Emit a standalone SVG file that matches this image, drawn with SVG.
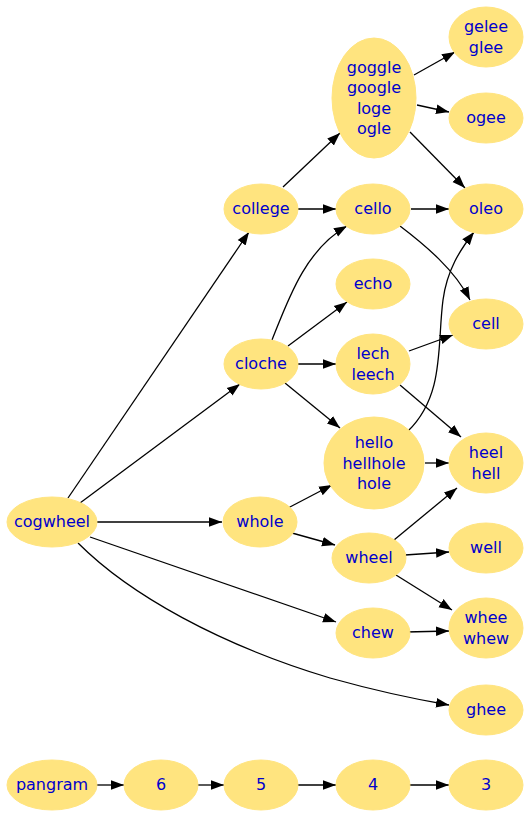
<svg xmlns="http://www.w3.org/2000/svg" width="530" height="815" viewBox="0 0 530 815">
<style>
.n ellipse{fill:#ffe47f;stroke:#ffe47f;stroke-width:1}
.n text{font-family:"DejaVu Sans",Verdana,sans-serif;font-size:16px;fill:#0000cc;text-anchor:middle}
#edges path{fill:none;stroke:#000;stroke-width:1.3;marker-end:url(#ah)}
</style>
<defs>
<marker id="ah" markerUnits="userSpaceOnUse" markerWidth="14" markerHeight="12" viewBox="0 0 14 12" refX="13" refY="6" orient="auto">
<path d="M0,1.2 L13,6 L0,10.8 Z" fill="#000"/>
</marker>
</defs>
<rect width="530" height="815" fill="#fff"/>
<g id="edges">
<path d="M68,498 L249,232"/>
<path d="M80,503 L240,384"/>
<path d="M97,522 L222,522"/>
<path d="M90,537 L336,622"/>
<path d="M78,543 C130,595 220,645 330,678 C380,692 420,700 449,705"/>
<path d="M283,187 L340,133"/>
<path d="M298,209 L336,209"/>
<path d="M272,340 C288,300 305,250 347,226"/>
<path d="M288,346 L347,302"/>
<path d="M298,364 L336,364"/>
<path d="M285,383 L340,428"/>
<path d="M414,75 L455,52"/>
<path d="M417,105 L449,112"/>
<path d="M410,132 L465,188"/>
<path d="M411,209 L449,209"/>
<path d="M400,226 C425,245 455,270 470,300"/>
<path d="M409,351 L453,335"/>
<path d="M400,385 L461,437"/>
<path d="M408,431 C445,395 437,345 443,300 C447,270 460,250 474,232"/>
<path d="M425,463 L449,463"/>
<path d="M288,508 L332,485"/>
<path d="M292,533 L335,545"/>
<path d="M394,540 L457,488"/>
<path d="M405,555 L449,552"/>
<path d="M396,575 L452,610"/>
<path d="M406,632 L449,631"/>
<path d="M96,785 L124,785"/>
<path d="M197,785 L224,785"/>
<path d="M295,785 L336,785"/>
<path d="M406,785 L449,785"/>
</g>
<g id="cogwheel" class="n"><ellipse cx="52" cy="522" rx="45" ry="25"/><text x="52" y="527">cogwheel</text></g>
<g id="college" class="n"><ellipse cx="261" cy="209" rx="37" ry="25"/><text x="261" y="214">college</text></g>
<g id="cloche" class="n"><ellipse cx="261" cy="364" rx="37" ry="25"/><text x="261" y="369">cloche</text></g>
<g id="whole" class="n"><ellipse cx="260" cy="522" rx="37" ry="25"/><text x="260" y="527">whole</text></g>
<g id="goggle" class="n"><ellipse cx="374" cy="98" rx="42" ry="60"/><text x="374" y="72.5">goggle</text><text x="374" y="93">google</text><text x="374" y="113.5">loge</text><text x="374" y="134">ogle</text></g>
<g id="cello" class="n"><ellipse cx="373" cy="209" rx="37" ry="25"/><text x="373" y="214">cello</text></g>
<g id="echo" class="n"><ellipse cx="373" cy="284" rx="37" ry="25"/><text x="373" y="289">echo</text></g>
<g id="lech" class="n"><ellipse cx="373" cy="364" rx="37" ry="30"/><text x="373" y="359">lech</text><text x="373" y="379.5">leech</text></g>
<g id="hello" class="n"><ellipse cx="374" cy="463" rx="50" ry="46"/><text x="374" y="448">hello</text><text x="374" y="468.5">hellhole</text><text x="374" y="489">hole</text></g>
<g id="wheel" class="n"><ellipse cx="369" cy="558" rx="37" ry="25"/><text x="369" y="563">wheel</text></g>
<g id="chew" class="n"><ellipse cx="373" cy="633" rx="37" ry="25"/><text x="373" y="638">chew</text></g>
<g id="gelee" class="n"><ellipse cx="486" cy="37" rx="37" ry="30"/><text x="486" y="32">gelee</text><text x="486" y="52.5">glee</text></g>
<g id="ogee" class="n"><ellipse cx="486" cy="118" rx="37" ry="25"/><text x="486" y="123">ogee</text></g>
<g id="oleo" class="n"><ellipse cx="486" cy="209" rx="37" ry="25"/><text x="486" y="214">oleo</text></g>
<g id="cell" class="n"><ellipse cx="486" cy="324" rx="37" ry="25"/><text x="486" y="329">cell</text></g>
<g id="heel" class="n"><ellipse cx="486" cy="463" rx="37" ry="30"/><text x="486" y="458">heel</text><text x="486" y="478.5">hell</text></g>
<g id="well" class="n"><ellipse cx="486" cy="548" rx="37" ry="25"/><text x="486" y="553">well</text></g>
<g id="whee" class="n"><ellipse cx="486" cy="628" rx="37" ry="30"/><text x="486" y="623">whee</text><text x="486" y="643.5">whew</text></g>
<g id="ghee" class="n"><ellipse cx="486" cy="710" rx="37" ry="25"/><text x="486" y="715">ghee</text></g>
<g id="pangram" class="n"><ellipse cx="52" cy="785" rx="45" ry="25"/><text x="52" y="790">pangram</text></g>
<g id="n6" class="n"><ellipse cx="161" cy="785" rx="37" ry="25"/><text x="161" y="790">6</text></g>
<g id="n5" class="n"><ellipse cx="261" cy="785" rx="37" ry="25"/><text x="261" y="790">5</text></g>
<g id="n4" class="n"><ellipse cx="373" cy="785" rx="37" ry="25"/><text x="373" y="790">4</text></g>
<g id="n3" class="n"><ellipse cx="486" cy="785" rx="37" ry="25"/><text x="486" y="790">3</text></g>
</svg>
